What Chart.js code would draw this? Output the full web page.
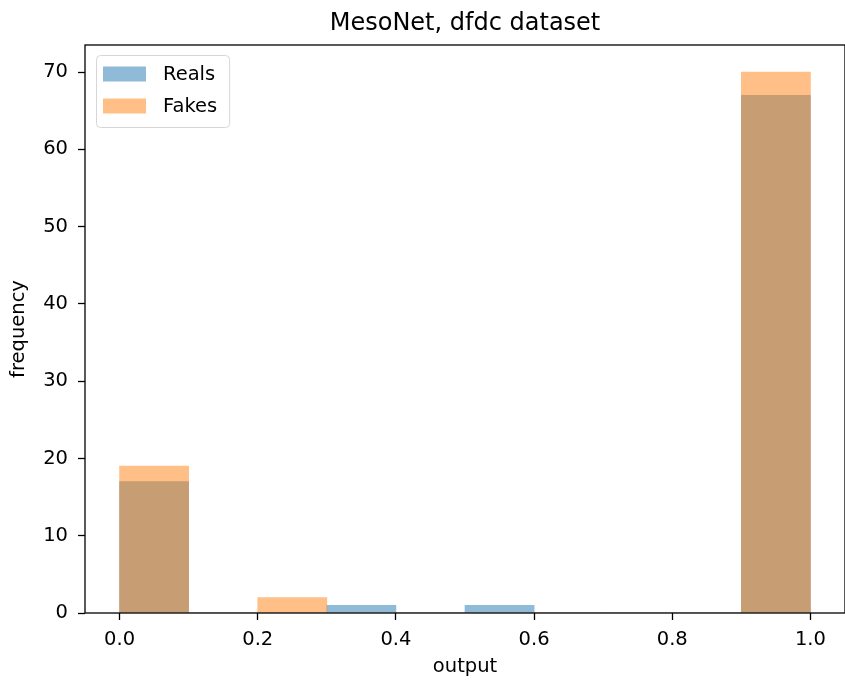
<!DOCTYPE html>
<html>
<head>
<meta charset="utf-8">
<title>MesoNet, dfdc dataset</title>
<script src="https://cdn.jsdelivr.net/npm/chart.js@4.4.1/dist/chart.umd.min.js"></script>
<style>
  html, body { margin: 0; padding: 0; background: #fff; }
  #wrap { width: 845px; height: 684px; }
</style>
</head>
<body>
<div id="wrap"><canvas id="histChart" width="845" height="684"></canvas></div>
<script>
// histogram bins and counts
const binEdges = [0.0, 0.1, 0.2, 0.3, 0.4, 0.5, 0.6, 0.7, 0.8, 0.9, 1.0];
const realsCounts = [17, 0, 0, 1, 0, 1, 0, 0, 0, 67];
const fakesCounts = [19, 0, 2, 0, 0, 0, 0, 0, 0, 70];
const seriesLabels = ['Reals', 'Fakes'];
const xTicks = [0.0, 0.2, 0.4, 0.6, 0.8, 1.0];
const yTicks = [0, 10, 20, 30, 40, 50, 60, 70];

Chart.defaults.font.family = '"DejaVu Sans", sans-serif';
Chart.defaults.color = '#000';

const binCenters = binEdges.slice(0, -1).map((e, i) => (e + binEdges[i + 1]) / 2);

function toPoints(counts) {
    return binCenters.map((x, i) => ({ x: x, y: counts[i] }));
}

// axes frame (all four spines), drawn over the bars like matplotlib
const axesFrame = {
    id: 'axesFrame',
    afterDatasetsDraw(chart) {
        const { ctx, chartArea } = chart;
        ctx.save();
        ctx.strokeStyle = '#000';
        ctx.lineWidth = 1.3;
        ctx.strokeRect(chartArea.left, chartArea.top, chartArea.right - chartArea.left, chartArea.bottom - chartArea.top);
        ctx.restore();
    }
};

// legend box in the upper left corner of the axes
const legendBox = {
    id: 'legendBox',
    afterDraw(chart) {
        const { ctx, chartArea } = chart;
        const sets = chart.data.datasets;
        ctx.save();
        ctx.font = '19.5px "DejaVu Sans"';
        const textW = Math.max(...sets.map(d => ctx.measureText(d.label).width));
        const x0 = chartArea.left + 11.5;
        const y0 = chartArea.top + 10.5;
        const w = 66.5 + textW + 12.5;
        const h = 72;

        ctx.beginPath();
        ctx.roundRect(x0, y0, w, h, 4);
        ctx.fillStyle = 'rgba(255,255,255,0.8)';
        ctx.fill();
        ctx.strokeStyle = '#d6d6d6';
        ctx.lineWidth = 1;
        ctx.stroke();

        sets.forEach((d, i) => {
            const rowTop = y0 + 11 + i * 32;
            ctx.fillStyle = d.backgroundColor;
            ctx.fillRect(x0 + 6.5, rowTop, 43, 15);
            ctx.fillStyle = '#000';
            ctx.textAlign = 'left';
            ctx.textBaseline = 'middle';
            ctx.fillText(d.label, x0 + 66.5, rowTop + 8);
        });
        ctx.restore();
    }
};

const ctx = document.getElementById('histChart').getContext('2d');

new Chart(ctx, {
    type: 'bar',
    data: {
        datasets: [
            {
                label: seriesLabels[0],
                data: toPoints(realsCounts),
                backgroundColor: 'rgba(31,119,180,0.5)',
                borderWidth: 0,
                order: 1
            },
            {
                label: seriesLabels[1],
                data: toPoints(fakesCounts),
                backgroundColor: 'rgba(255,127,14,0.5)',
                borderWidth: 0,
                order: 0
            }
        ]
    },
    options: {
        responsive: false,
        animation: false,
        devicePixelRatio: 1,
        grouped: false,
        barPercentage: 1,
        categoryPercentage: 1,
        layout: { padding: 0 },
        plugins: {
            legend: { display: false },
            tooltip: { enabled: false },
            title: {
                display: true,
                text: 'MesoNet, dfdc dataset',
                fullSize: false,
                color: '#000',
                font: { size: 24, weight: 'normal' },
                padding: { top: 9.5, bottom: 6.7 }
            }
        },
        scales: {
            x: {
                type: 'linear',
                position: 'bottom',
                offset: false,
                min: -0.05,
                max: 1.05,
                afterBuildTicks: (scale) => { scale.ticks = xTicks.map(v => ({ value: v })); },
                afterFit: (scale) => { scale.height = 71; },
                grid: { offset: false, drawOnChartArea: false, drawTicks: true, tickLength: 7, tickColor: '#000', tickWidth: 1.3 },
                border: { display: false },
                ticks: {
                    padding: 8.5,
                    autoSkip: false,
                    maxRotation: 0,
                    font: { size: 19.5 },
                    callback: (v) => Number(v).toFixed(1)
                },
                title: {
                    display: true,
                    text: 'output',
                    font: { size: 19.5 },
                    padding: { top: 2.7, bottom: 5 }
                }
            },
            y: {
                min: 0,
                max: 73.5,
                afterBuildTicks: (scale) => { scale.ticks = yTicks.map(v => ({ value: v })); },
                afterFit: (scale) => { scale.width = 85; },
                grid: { drawOnChartArea: false, drawTicks: true, tickLength: 7, tickColor: '#000', tickWidth: 1.3 },
                border: { display: false },
                ticks: {
                    padding: 10,
                    font: { size: 19.5 }
                },
                title: {
                    display: true,
                    text: 'frequency',
                    font: { size: 19.5 },
                    padding: { top: 7.3, bottom: 0 }
                }
            }
        }
    },
    plugins: [axesFrame, legendBox]
});
</script>
</body>
</html>
